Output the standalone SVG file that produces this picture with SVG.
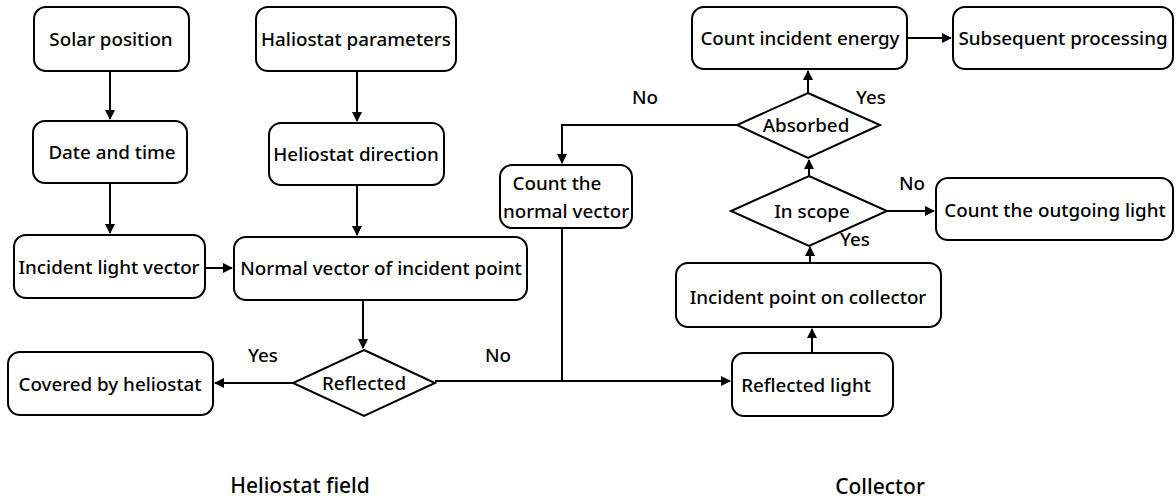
<svg xmlns="http://www.w3.org/2000/svg" width="1176" height="499" viewBox="0 0 1176 499">
<defs>
<marker id="ah" markerWidth="10" markerHeight="10" refX="9" refY="5" orient="auto" markerUnits="userSpaceOnUse">
<path d="M0,0 L10,5 L0,10 z" fill="#000"/>
</marker>
<style>
.b{fill:#fff;stroke:#000;stroke-width:2}
.t{font-family:"Noto Sans",sans-serif;font-size:18.8px;font-weight:500;fill:#000;text-anchor:middle;dominant-baseline:central}
.h{font-size:21px}
.c{fill:none;stroke:#000;stroke-width:2}
</style>
</defs>
<rect width="1176" height="499" fill="#fff"/>
<g id="connectors">
<path class="c" d="M110,71 V119" marker-end="url(#ah)"/>
<path class="c" d="M110,183 V233" marker-end="url(#ah)"/>
<path class="c" d="M357,71 V121" marker-end="url(#ah)"/>
<path class="c" d="M357,185 V235" marker-end="url(#ah)"/>
<path class="c" d="M205,268 H232" marker-end="url(#ah)"/>
<path class="c" d="M363,300 V348" marker-end="url(#ah)"/>
<path class="c" d="M293,383 H215" marker-end="url(#ah)"/>
<path class="c" d="M435,381 H730" marker-end="url(#ah)"/>
<path class="c" d="M562,228 V381"/>
<path class="c" d="M812,353 V329" marker-end="url(#ah)"/>
<path class="c" d="M810,263 V247" marker-end="url(#ah)"/>
<path class="c" d="M809,176 V160" marker-end="url(#ah)"/>
<path class="c" d="M808,93 V71" marker-end="url(#ah)"/>
<path class="c" d="M907,38 H951" marker-end="url(#ah)"/>
<path class="c" d="M887,211 H934" marker-end="url(#ah)"/>
<path class="c" d="M737,125 H562 V163" marker-end="url(#ah)"/>
</g>
<g id="solar"><rect class="b" x="34" y="7" width="155" height="64" rx="12"/><text class="t" x="111" y="39">Solar position</text></g>
<g id="date"><rect class="b" x="33" y="121" width="154" height="62" rx="12"/><text class="t" x="112" y="152">Date and time</text></g>
<g id="incident"><rect class="b" x="14" y="235" width="191" height="63" rx="12"/><text class="t" x="109" y="267">Incident light vector</text></g>
<g id="params"><rect class="b" x="256" y="7" width="200" height="64" rx="12"/><text class="t" x="356" y="39">Haliostat parameters</text></g>
<g id="direction"><rect class="b" x="269" y="123" width="175" height="62" rx="12"/><text class="t" x="356" y="154">Heliostat direction</text></g>
<g id="normal"><rect class="b" x="234" y="237" width="293" height="63" rx="12"/><text class="t" x="381" y="268">Normal vector of incident point</text></g>
<g id="reflected"><polygon class="b" points="364,350 435,383 364,416 293,383"/><text class="t" x="364" y="383">Reflected</text></g>
<g id="covered"><rect class="b" x="8" y="352" width="205" height="63" rx="12"/><text class="t" x="110" y="384">Covered by heliostat</text></g>
<g id="countnormal"><rect class="b" x="500" y="165" width="132" height="63" rx="12"/><text class="t" x="557" y="183">Count the</text><text class="t" x="566" y="211">normal vector</text></g>
<g id="rlight"><rect class="b" x="732" y="353" width="161" height="63" rx="12"/><text class="t" x="806" y="385">Reflected light</text></g>
<g id="ipoint"><rect class="b" x="676" y="263" width="265" height="64" rx="12"/><text class="t" x="808" y="297">Incident point on collector</text></g>
<g id="scope"><polygon class="b" points="809,176 887,211 809,246 731,211"/><text class="t" x="812" y="211">In scope</text></g>
<g id="absorbed"><polygon class="b" points="808,93 880,125 808,158 737,125"/><text class="t" x="806" y="125">Absorbed</text></g>
<g id="energy"><rect class="b" x="692" y="7" width="215" height="62" rx="12"/><text class="t" x="800" y="38">Count incident energy</text></g>
<g id="subsequent"><rect class="b" x="953" y="7" width="220" height="62" rx="12"/><text class="t" x="1063" y="38">Subsequent processing</text></g>
<g id="outgoing"><rect class="b" x="936" y="178" width="237" height="62" rx="12"/><text class="t" x="1055" y="210">Count the outgoing light</text></g>
<g id="labels">
<text class="t" x="263" y="355">Yes</text>
<text class="t" x="498" y="355">No</text>
<text class="t" x="645" y="97">No</text>
<text class="t" x="871" y="97">Yes</text>
<text class="t" x="912" y="183">No</text>
<text class="t" x="855" y="239">Yes</text>
<text class="t h" x="300" y="485">Heliostat field</text>
<text class="t h" x="880" y="486">Collector</text>
</g>
</svg>
